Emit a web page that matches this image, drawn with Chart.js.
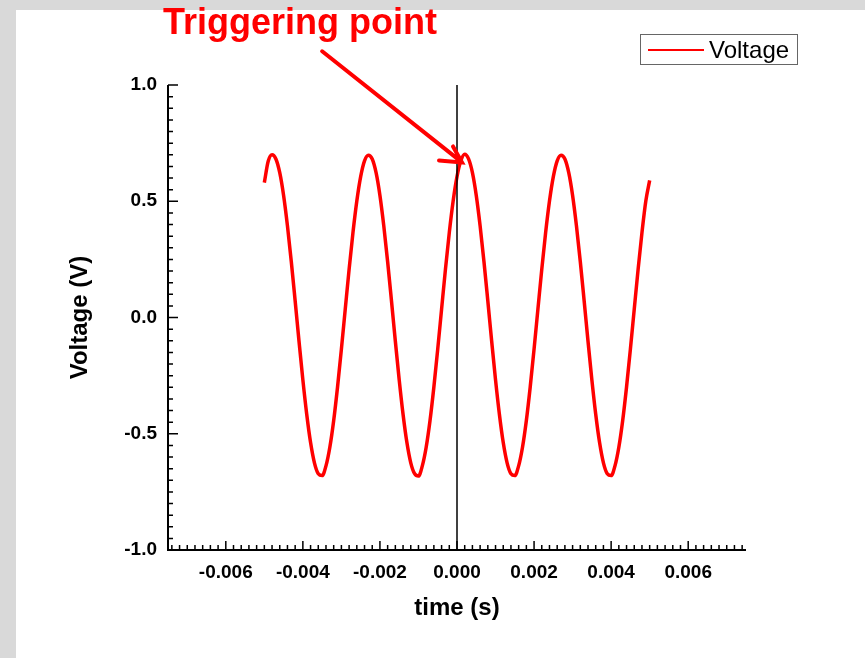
<!DOCTYPE html>
<html>
<head>
<meta charset="utf-8">
<script src="https://cdn.jsdelivr.net/npm/chart.js@4.4.1/dist/chart.umd.min.js"></script>
<style>
  html, body { margin: 0; padding: 0; }
  body { width: 865px; height: 658px; background: #d9d9d9; position: relative; overflow: hidden; }
  #panel { position: absolute; left: 16px; top: 10px; right: 0; bottom: 0; background: #fff; }
  #grafica { position: absolute; left: 0; top: 0; }
</style>
</head>
<body>
<div id="panel"></div>
<canvas id="grafica" width="865" height="658"></canvas>
<script>
// tiempo (s), muestras cada 0.1 ms
const tiempo = [
  -0.0050, -0.0049, -0.0048, -0.0047, -0.0046, -0.0045, -0.0044, -0.0043, -0.0042, -0.0041,
  -0.0040, -0.0039, -0.0038, -0.0037, -0.0036, -0.0035, -0.0034, -0.0033, -0.0032, -0.0031,
  -0.0030, -0.0029, -0.0028, -0.0027, -0.0026, -0.0025, -0.0024, -0.0023, -0.0022, -0.0021,
  -0.0020, -0.0019, -0.0018, -0.0017, -0.0016, -0.0015, -0.0014, -0.0013, -0.0012, -0.0011,
  -0.0010, -0.0009, -0.0008, -0.0007, -0.0006, -0.0005, -0.0004, -0.0003, -0.0002, -0.0001,
  0.0000, 0.0001, 0.0002, 0.0003, 0.0004, 0.0005, 0.0006, 0.0007, 0.0008, 0.0009,
  0.0010, 0.0011, 0.0012, 0.0013, 0.0014, 0.0015, 0.0016, 0.0017, 0.0018, 0.0019,
  0.0020, 0.0021, 0.0022, 0.0023, 0.0024, 0.0025, 0.0026, 0.0027, 0.0028, 0.0029,
  0.0030, 0.0031, 0.0032, 0.0033, 0.0034, 0.0035, 0.0036, 0.0037, 0.0038, 0.0039,
  0.0040, 0.0041, 0.0042, 0.0043, 0.0044, 0.0045, 0.0046, 0.0047, 0.0048, 0.0049,
  0.0050
];

// voltaje (V)
const voltaje = [
  0.580, 0.672, 0.700, 0.682, 0.623, 0.525, 0.394, 0.240, 0.071, -0.102,
  -0.268, -0.416, -0.538, -0.625, -0.672, -0.680, -0.638, -0.558, -0.443, -0.299,
  -0.136, 0.036, 0.207, 0.365, 0.501,
  0.606, 0.674, 0.698, 0.682, 0.623, 0.525, 0.394, 0.240, 0.071, -0.102,
  -0.268, -0.416, -0.538, -0.625, -0.672, -0.682, -0.638, -0.558, -0.443, -0.299,
  -0.136, 0.036, 0.207, 0.365, 0.501,
  0.606, 0.674, 0.702, 0.682, 0.623, 0.525, 0.394, 0.240, 0.071, -0.102,
  -0.268, -0.416, -0.538, -0.625, -0.672, -0.680, -0.638, -0.558, -0.443, -0.299,
  -0.136, 0.036, 0.207, 0.365, 0.501,
  0.606, 0.674, 0.698, 0.682, 0.623, 0.525, 0.394, 0.240, 0.071, -0.102,
  -0.268, -0.416, -0.538, -0.625, -0.672, -0.680, -0.638, -0.558, -0.443, -0.299,
  -0.136, 0.036, 0.207, 0.365, 0.501,
  0.590
];

const marcasX = [-0.006, -0.004, -0.002, 0.000, 0.002, 0.004, 0.006];
const marcasY = [-1.0, -0.5, 0.0, 0.5, 1.0];
const ejeX = { min: -0.0075, max: 0.0075, menor: 0.0002 };
const ejeY = { min: -1.0, max: 1.0, menor: 0.05 };
const lineaDisparo = 0.0;
const etiquetaDisparo = 'Triggering point';
const flechaDesde = { x: -0.0035, y: 1.145 };
const flechaHasta = { x: 0.00013, y: 0.667 };

const FUENTE = '"Liberation Sans", Arial, sans-serif';

const extras = {
  id: 'extras',
  afterDatasetsDraw(chart) {
    const ctx = chart.ctx;
    const xs = chart.scales.x, ys = chart.scales.y;
    const area = chart.chartArea;
    ctx.save();

    // linea vertical en t = 0
    const x0 = xs.getPixelForValue(lineaDisparo);
    ctx.strokeStyle = '#000';
    ctx.lineWidth = 1.5;
    ctx.beginPath();
    ctx.moveTo(x0, area.top);
    ctx.lineTo(x0, area.bottom);
    ctx.stroke();

    // ejes
    ctx.lineWidth = 2;
    ctx.beginPath();
    ctx.moveTo(area.left, area.top);
    ctx.lineTo(area.left, area.bottom);
    ctx.lineTo(area.right, area.bottom);
    ctx.stroke();

    // marcas hacia adentro
    ctx.lineWidth = 1.5;
    ctx.beginPath();
    const nx = Math.floor((ejeX.max - 1e-9) / ejeX.menor);
    for (let i = -nx; i <= nx; i++) {
      const px = xs.getPixelForValue(i * ejeX.menor);
      const largo = i % 10 === 0 ? 9 : 5;
      ctx.moveTo(px, area.bottom);
      ctx.lineTo(px, area.bottom - largo);
    }
    const ny = Math.round(ejeY.max / ejeY.menor);
    for (let i = -ny + 1; i <= ny; i++) {
      const py = ys.getPixelForValue(i * ejeY.menor);
      const largo = i % 10 === 0 ? 10 : 5;
      ctx.moveTo(area.left, py);
      ctx.lineTo(area.left + largo, py);
    }
    ctx.stroke();

    // texto y flecha
    ctx.fillStyle = '#ff0000';
    ctx.font = 'bold 36px ' + FUENTE;
    ctx.textBaseline = 'alphabetic';
    ctx.textAlign = 'left';
    ctx.fillText(etiquetaDisparo, 163, 34);

    const ax = xs.getPixelForValue(flechaDesde.x), ay = ys.getPixelForValue(flechaDesde.y);
    const bx = xs.getPixelForValue(flechaHasta.x), by = ys.getPixelForValue(flechaHasta.y);
    ctx.strokeStyle = '#ff0000';
    ctx.lineWidth = 4;
    ctx.lineCap = 'round';
    ctx.beginPath();
    ctx.moveTo(ax, ay);
    ctx.lineTo(bx, by);
    ctx.moveTo(bx - 23, by - 2);
    ctx.lineTo(bx, by);
    ctx.lineTo(bx - 9, by - 16);
    ctx.stroke();

    // leyenda
    ctx.lineCap = 'butt';
    ctx.strokeStyle = '#666';
    ctx.lineWidth = 1;
    ctx.strokeRect(640.5, 34.5, 157, 30);
    ctx.strokeStyle = '#ff0000';
    ctx.lineWidth = 2;
    ctx.beginPath();
    ctx.moveTo(648, 50);
    ctx.lineTo(704, 50);
    ctx.stroke();
    ctx.fillStyle = '#000';
    ctx.font = '24px ' + FUENTE;
    ctx.fillText('Voltage', 709, 58);

    ctx.restore();
  }
};

const ctx = document.getElementById('grafica').getContext('2d');
new Chart(ctx, {
  type: 'line',
  data: {
    labels: tiempo,
    datasets: [{
      label: 'Voltage',
      data: tiempo.map((t, i) => ({ x: t, y: voltaje[i] })),
      borderColor: '#ff0000',
      borderWidth: 3.5,
      pointRadius: 0,
      cubicInterpolationMode: 'monotone',
      fill: false
    }]
  },
  options: {
    responsive: false,
    animation: false,
    layout: { padding: { left: 0, right: 119, top: 85, bottom: 0 } },
    plugins: {
      legend: { display: false },
      tooltip: { enabled: false }
    },
    scales: {
      x: {
        type: 'linear',
        min: ejeX.min,
        max: ejeX.max,
        grid: { display: false, drawTicks: false },
        border: { display: false },
        afterBuildTicks: s => { s.ticks = marcasX.map(v => ({ value: v })); },
        ticks: {
          color: '#000',
          padding: 11,
          maxRotation: 0,
          autoSkip: false,
          font: { family: FUENTE, size: 19, weight: 'bold' },
          callback: v => v.toFixed(3)
        },
        title: {
          display: true,
          text: 'time (s)',
          color: '#000',
          padding: { top: 0, bottom: 35 },
          font: { family: FUENTE, size: 24, weight: 'bold' }
        },
        afterFit: s => { s.height = 108; }
      },
      y: {
        min: ejeY.min,
        max: ejeY.max,
        grid: { display: false, drawTicks: false },
        border: { display: false },
        afterBuildTicks: s => { s.ticks = marcasY.map(v => ({ value: v })); },
        ticks: {
          color: '#000',
          padding: 11,
          autoSkip: false,
          font: { family: FUENTE, size: 19, weight: 'bold' },
          callback: v => v.toFixed(1)
        },
        title: {
          display: true,
          text: 'Voltage (V)',
          color: '#000',
          padding: { top: 66, bottom: 0 },
          font: { family: FUENTE, size: 24, weight: 'bold' }
        },
        afterFit: s => { s.width = 168; }
      }
    }
  },
  plugins: [extras]
});
</script>
</body>
</html>
